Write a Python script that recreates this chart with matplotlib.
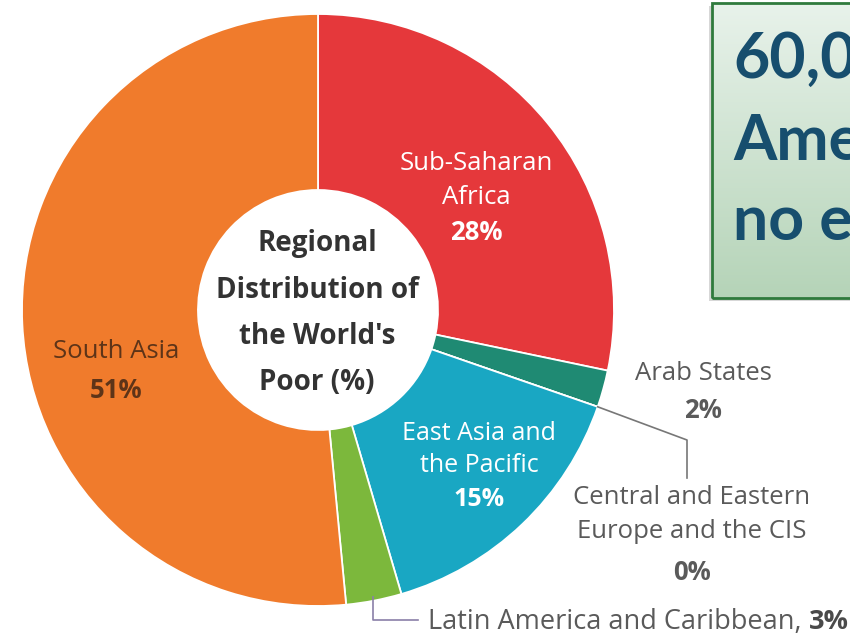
import numpy as np
import matplotlib.pyplot as plt
from matplotlib.patches import Rectangle

regions = ["Sub-Saharan Africa", "Arab States", "Central and Eastern Europe and the CIS",
           "East Asia and the Pacific", "Latin America and Caribbean", "South Asia"]
shares = [28, 2, 0, 15, 3, 51]
colors = ["#e5383b", "#1f8a73", "#9a9a9a", "#19a7c3", "#7cb83c", "#f07b2c"]
box_lines = ["60,000", "Americans", "no e"]

W, H = 850, 639
fig = plt.figure(figsize=(W / 100, H / 100), dpi=100)
ax = fig.add_axes([0, 0, 1, 1])

def top(y):
    # pixel offset from the top edge -> data y
    return H - y

cx, cy, R = 318, top(310), 296
ax.pie(shares, colors=colors, startangle=90, counterclock=False,
       center=(cx, cy), radius=R,
       wedgeprops=dict(width=R - 120, edgecolor="white", linewidth=1.3))
ax.set_xlim(0, W)
ax.set_ylim(0, H)
ax.set_aspect("equal")
ax.axis("off")

font = "Open Sans"
pct = [f"{v}%" for v in shares]

# centre title
for txt, y in zip(["Regional", "Distribution of", "the World's", "Poor (%)"], [243, 290, 336, 383]):
    ax.text(317, top(y), txt, ha="center", va="center", fontsize=20,
            fontweight="bold", color="#333333", family=font)

# ring labels
def label(x, ys, lines, color, size):
    for i, (txt, y) in enumerate(zip(lines, ys)):
        bold = i == len(lines) - 1
        ax.text(x, top(y), txt, ha="center", va="center", fontsize=size,
                fontweight="bold" if bold else "normal", color=color, family=font)

label(476, [164, 197, 233], ["Sub-Saharan", "Africa", pct[0]], "white", 18.5)
label(479, [433, 465, 500], ["East Asia and", "the Pacific", pct[3]], "white", 18)
label(116, [352, 390], ["South Asia", pct[5]], "#5e3418", 18.5)
label(703, [374, 410], ["Arab States", pct[1]], "#5a5a5a", 18.5)
label(692, [498, 531, 572], ["Central and Eastern", "Europe and the CIS", pct[2]], "#5a5a5a", 18.5)

# leader line for the zero slice
cum = np.cumsum(shares) / sum(shares)
a = np.deg2rad(90 - 360 * cum[2])
x0, y0 = cx + R * np.cos(a), cy + R * np.sin(a)
ax.plot([x0, 687, 687], [y0, top(440), top(478)], color="#777777", lw=1.2)

# leader line for Latin America
a = np.deg2rad(90 - 360 * (cum[3] + cum[4]) / 2)
x0, y0 = cx + (R - 4) * np.cos(a), cy + (R - 4) * np.sin(a)
ax.plot([x0, x0, 418], [y0, top(620), top(620)], color="#8a7fa8", lw=1.2)

t1 = ax.text(428, top(622), "Latin America and Caribbean, ", ha="left", va="center",
             fontsize=19.5, color="#5a5a5a", family=font)
fig.canvas.draw()
bb = t1.get_window_extent().transformed(ax.transData.inverted())
ax.text(bb.x1, top(622), pct[4], ha="left", va="center", fontsize=19.5,
        fontweight="bold", color="#4a4a4a", family=font)

# callout box on the right
bx0, by0, bx1, by1 = 712, top(298), 900, top(3)
ax.add_patch(Rectangle((bx0 - 3, by0 - 3), bx1 - bx0, by1 - by0, facecolor="#bdbdbd",
                       edgecolor="none", alpha=0.6, zorder=3))
grad = np.linspace(0, 1, 256).reshape(-1, 1)
c_top = np.array([0.91, 0.95, 0.92])
c_bot = np.array([0.71, 0.83, 0.72])
img = c_top[None, None, :] * (1 - grad[..., None]) + c_bot[None, None, :] * grad[..., None]
ax.imshow(img, extent=(bx0, bx1, by0, by1), origin="upper", aspect="auto", zorder=4)
ax.add_patch(Rectangle((bx0, by0), bx1 - bx0, by1 - by0, facecolor="none",
                       edgecolor="#2f7a3c", lw=2, zorder=5))
ax.set_xlim(0, W)
ax.set_ylim(0, H)

for txt, y in zip(box_lines, [78, 160, 240]):
    ax.text(733, top(y), txt, ha="left", va="baseline", fontsize=45,
            fontweight="bold", color="#174e6e", family="Lato", zorder=6)

fig.savefig("out.png", dpi=100)
